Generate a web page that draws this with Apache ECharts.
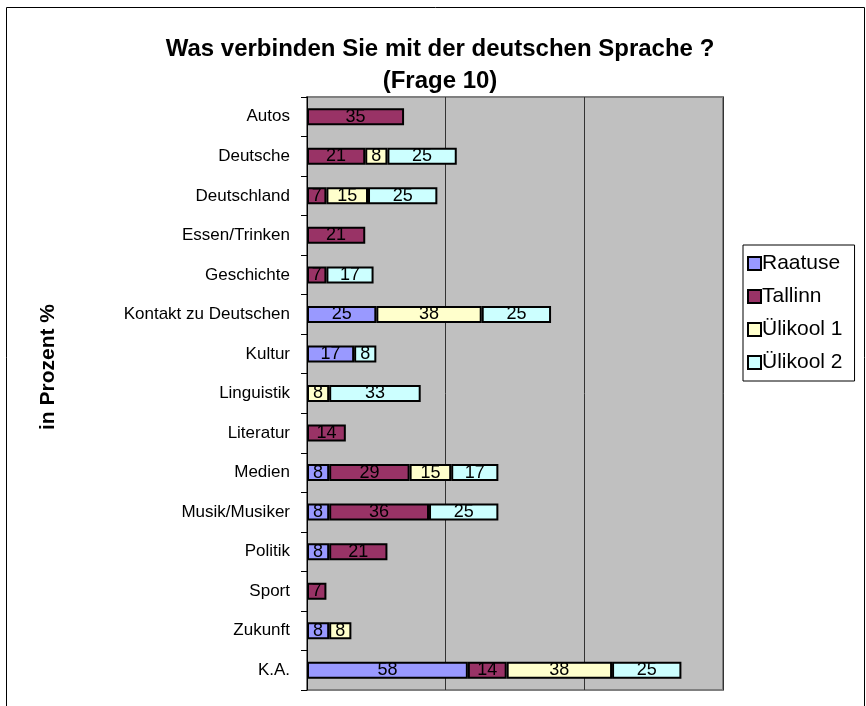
<!DOCTYPE html>
<html><head><meta charset="utf-8">
<script src="https://cdn.jsdelivr.net/npm/echarts@6/dist/echarts.min.js"></script>
<style>html,body{margin:0;padding:0;background:#fff}#c{width:866px;height:706px}</style>
</head><body><div id="c"></div>
<script>
const categories = ['Autos','Deutsche','Deutschland','Essen/Trinken','Geschichte','Kontakt zu Deutschen','Kultur','Linguistik','Literatur','Medien','Musik/Musiker','Politik','Sport','Zukunft','K.A.'];
const raatuse  = [null,null,null,null,null,25,17,null,null,8,8,8,null,8,58];
const tallinn  = [35,21,7,21,7,null,null,null,14,29,36,21,7,null,14];
const ylikool1 = [null,8,15,null,null,38,null,8,null,15,null,null,null,8,38];
const ylikool2 = [null,25,25,null,17,25,8,33,null,17,25,null,null,null,25];
const seriesNames = ['Raatuse','Tallinn','Ülikool 1','Ülikool 2'];
const colors = ['#9999FF','#993366','#FFFFCC','#CCFFFF'];
const xTicks = {min:0, max:150, interval:50};

const FONT = 'Liberation Sans, Arial, sans-serif';
const chart = echarts.init(document.getElementById('c'));
const mk = (name, data, i) => ({
  name, type:'bar', stack:'all', data, barWidth:17,
  itemStyle:{color:colors[i], borderColor:'#000', borderWidth:2},
  label:{show:true, position:'inside', color:'#000', fontFamily:FONT, fontSize:18,
    formatter:p=>p.value==null?'':String(p.value)}
});
chart.setOption({
  animation:false,
  textStyle:{fontFamily:FONT},
  title:{text:'Was verbinden Sie mit der deutschen Sprache ?\n(Frage 10)', left:435, textAlign:'center', top:28,
    textStyle:{fontSize:24, fontWeight:'bold', color:'#000', lineHeight:32, fontFamily:FONT}},
  graphic:[{type:'rect', left:4, top:5, shape:{width:858, height:720}, style:{fill:'none', stroke:'#000', lineWidth:1}, silent:true},
    {type:'text', x:48, y:367, rotation:Math.PI/2, silent:true,
     style:{text:'in Prozent %', font:'bold 21px Liberation Sans, Arial', fill:'#000', align:'center', verticalAlign:'middle'}}],
  legend:{orient:'vertical', left:743, top:245, data:seriesNames, icon:'rect', itemWidth:13, itemHeight:13, itemGap:12,
    padding:[8,12,8,4], borderColor:'#000', borderWidth:1, backgroundColor:'#fff',
    itemStyle:{borderColor:'#000', borderWidth:2},
    textStyle:{fontSize:21, color:'#000', fontFamily:FONT, padding:[0,0,0,-4]}},
  grid:{left:307, right:143, top:97, bottom:16, show:true, backgroundColor:'#C0C0C0', borderColor:'#808080', borderWidth:2},
  xAxis:{type:'value', min:xTicks.min, max:xTicks.max, interval:xTicks.interval,
    axisLabel:{show:false}, axisLine:{show:false}, axisTick:{show:false},
    splitLine:{show:true, lineStyle:{color:'#333', width:1}}},
  yAxis:{type:'category', data:categories, inverse:true,
    axisLine:{show:true, lineStyle:{color:'#000', width:1}},
    axisTick:{show:true, length:6, lineStyle:{color:'#000'}},
    axisLabel:{fontSize:17, color:'#000', margin:17, fontFamily:FONT}},
  series:[mk(seriesNames[0],raatuse,0), mk(seriesNames[1],tallinn,1), mk(seriesNames[2],ylikool1,2), mk(seriesNames[3],ylikool2,3)]
});
</script></body></html>
